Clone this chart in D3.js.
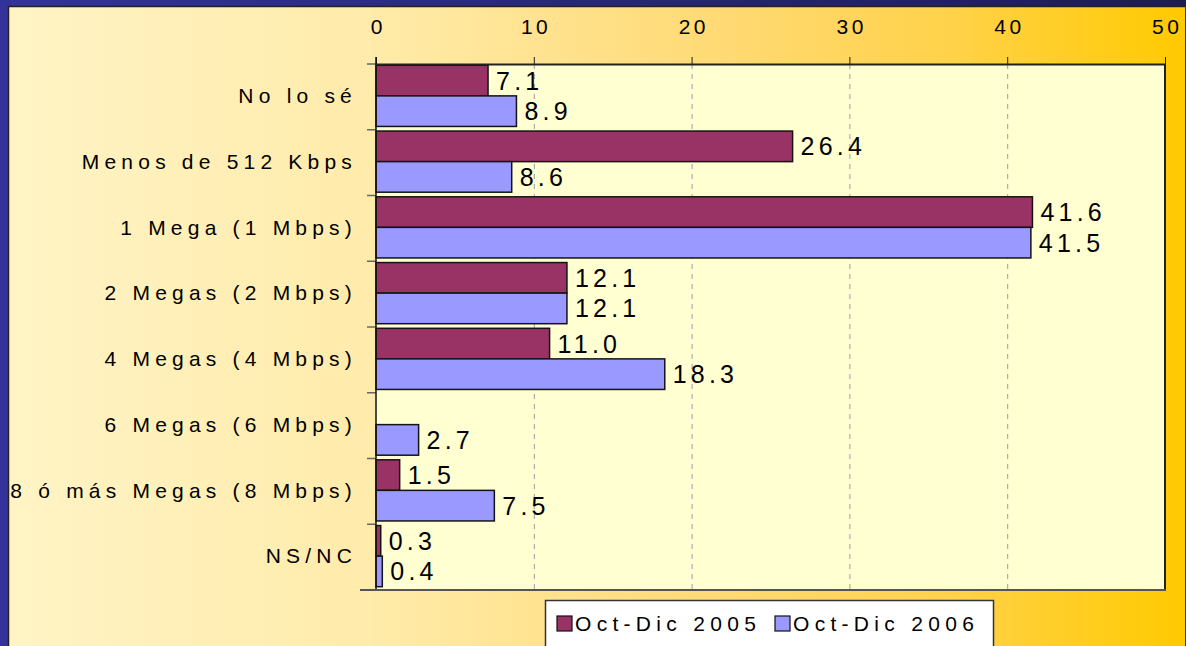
<!DOCTYPE html>
<html>
<head>
<meta charset="utf-8">
<script src="https://cdn.jsdelivr.net/npm/d3@7"></script>
<style>
  body { margin: 0; padding: 0; overflow: hidden; }
  svg { display: block; font-family: "Liberation Sans", Arial, sans-serif; }
</style>
</head>
<body>
<div id="chart"></div>
<script>
// data
var categories = ["No lo sé", "Menos de 512 Kbps", "1 Mega (1 Mbps)", "2 Megas (2 Mbps)",
                  "4 Megas (4 Mbps)", "6 Megas (6 Mbps)", "8 ó más Megas (8 Mbps)", "NS/NC"];
var series = ["Oct-Dic 2005", "Oct-Dic 2006"];
var values2005 = [7.1, 26.4, 41.6, 12.1, 11.0, null, 1.5, 0.3];
var values2006 = [8.9, 8.6, 41.5, 12.1, 18.3, 2.7, 7.5, 0.4];
var xTicks = [0, 10, 20, 30, 40, 50];
var colors = ["#993366", "#9999FF"];

var W = 1186, H = 646;
var plot = {left: 376, right: 1165, top: 64, bottom: 590};

var svg = d3.select("#chart")
  .append("svg")
    .attr("width", W)
    .attr("height", H);

// background gradients
var defs = svg.append("defs");
var bg = defs.append("linearGradient").attr("id", "bg")
  .attr("x1", "0%").attr("x2", "100%").attr("y1", "0%").attr("y2", "0%");
[[0, "#FFF4C6"], [0.3, "#FFECAC"], [0.62, "#FFD972"], [0.8, "#FFD24A"], [1, "#FFCA00"]]
  .forEach(function(s) { bg.append("stop").attr("offset", s[0]).attr("stop-color", s[1]); });
var topBar = defs.append("linearGradient").attr("id", "topbar")
  .attr("x1", "0%").attr("x2", "100%").attr("y1", "0%").attr("y2", "0%");
topBar.append("stop").attr("offset", 0).attr("stop-color", "#333399");
topBar.append("stop").attr("offset", 1).attr("stop-color", "#1c1c55");

svg.append("rect").attr("width", W).attr("height", H).attr("fill", "url(#bg)");
svg.append("rect").attr("x", 0).attr("y", 0).attr("width", 8).attr("height", H).attr("fill", "#333399");
svg.append("rect").attr("x", 0).attr("y", 0).attr("width", W).attr("height", 6).attr("fill", "url(#topbar)");
svg.append("path").attr("d", "M8.5," + H + "V6.5H" + W)
  .attr("fill", "none").attr("stroke", "#222").attr("stroke-width", 1.5);
svg.append("line").attr("x1", W - 0.5).attr("x2", W - 0.5).attr("y1", 6).attr("y2", H)
  .attr("stroke", "#333").attr("stroke-width", 1);

// scales
var x = d3.scaleLinear()
  .domain([0, 50])
  .range([plot.left, plot.right]);

var y = d3.scaleBand()
  .domain(categories)
  .range([plot.top, plot.bottom])
  .paddingInner(0.07)
  .paddingOuter(0.035);

var ySub = d3.scaleBand()
  .domain(series)
  .range([0, y.bandwidth()]);

// plot area
svg.append("rect")
  .attr("x", plot.left).attr("y", plot.top)
  .attr("width", plot.right - plot.left).attr("height", plot.bottom - plot.top)
  .attr("fill", "#FFFFD2");

// gridlines
svg.append("g")
  .selectAll("line")
  .data(xTicks.slice(1, -1))
  .enter()
  .append("line")
    .attr("x1", function(d) { return x(d) + 0.5; })
    .attr("x2", function(d) { return x(d) + 0.5; })
    .attr("y1", plot.top)
    .attr("y2", plot.bottom)
    .attr("stroke", "#9a9aa8")
    .attr("stroke-width", 1)
    .attr("stroke-dasharray", "5,5");

// bars
var rows = categories.map(function(c, i) {
  return {cat: c, vals: [
    {s: series[0], v: values2005[i]},
    {s: series[1], v: values2006[i]}
  ]};
});

var groups = svg.append("g")
  .selectAll("g")
  .data(rows)
  .enter()
  .append("g")
    .attr("transform", function(d) { return "translate(0," + (y(d.cat) - 1) + ")"; });

var fmt = d3.format(".1f");

groups.selectAll("rect")
  .data(function(d) { return d.vals.filter(function(e) { return e.v != null; }); })
  .enter()
  .append("rect")
    .attr("x", x(0))
    .attr("y", function(d) { return ySub(d.s); })
    .attr("width", function(d) { return x(d.v) - x(0); })
    .attr("height", ySub.bandwidth())
    .attr("fill", function(d) { return colors[series.indexOf(d.s)]; })
    .attr("stroke", "#141414")
    .attr("stroke-width", 1.5);

groups.selectAll("text")
  .data(function(d) { return d.vals.filter(function(e) { return e.v != null; }); })
  .enter()
  .append("text")
    .attr("x", function(d) { return x(d.v) + 8; })
    .attr("y", function(d) { return ySub(d.s) + ySub.bandwidth() / 2; })
    .attr("dy", "0.36em")
    .attr("font-size", 25)
    .attr("letter-spacing", 4.2)
    .attr("fill", "#000")
    .text(function(d) { return fmt(d.v); });

// top axis
var xAxis = svg.append("g")
  .attr("transform", "translate(0," + plot.top + ")")
  .call(d3.axisTop(x).tickValues(xTicks).tickSize(7).tickSizeOuter(0).tickPadding(23));
xAxis.select(".domain").attr("stroke", "#222").attr("stroke-width", 2);
xAxis.selectAll(".tick line").attr("stroke", "#222");
xAxis.selectAll("text")
  .attr("font-size", 21)
  .attr("letter-spacing", 3.5)
  .attr("dx", 1.75)
  .attr("fill", "#000")
  .attr("font-family", "Liberation Sans, Arial, sans-serif");

// left axis (ticks at category boundaries)
var bounds = categories.map(function(c) { return y(c) - y.step() * y.paddingInner() / 2; });
bounds.push(plot.bottom);
svg.append("g")
  .selectAll("line")
  .data(bounds)
  .enter()
  .append("line")
    .attr("x1", plot.left - 9)
    .attr("x2", plot.left)
    .attr("y1", function(d) { return d; })
    .attr("y2", function(d) { return d; })
    .attr("stroke", "#666")
    .attr("stroke-width", 1.5);

svg.append("g")
  .selectAll("text")
  .data(categories)
  .enter()
  .append("text")
    .attr("x", 357)
    .attr("y", function(d) { return y(d) + y.bandwidth() / 2; })
    .attr("dy", "0.3em")
    .attr("text-anchor", "end")
    .attr("font-size", 21)
    .attr("letter-spacing", 5.2)
    .attr("fill", "#000")
    .text(function(d) { return d; });

// plot frame
svg.append("line")
  .attr("x1", plot.left).attr("x2", plot.left)
  .attr("y1", plot.top - 7).attr("y2", plot.bottom)
  .attr("stroke", "#111").attr("stroke-width", 1.5);
svg.append("line")
  .attr("x1", plot.right).attr("x2", plot.right)
  .attr("y1", plot.top).attr("y2", plot.bottom + 1)
  .attr("stroke", "#222").attr("stroke-width", 2);
svg.append("line")
  .attr("x1", plot.left - 16).attr("x2", plot.right + 1)
  .attr("y1", plot.bottom).attr("y2", plot.bottom)
  .attr("stroke", "#555").attr("stroke-width", 2);

// legend
var legend = svg.append("g").attr("transform", "translate(545,600)");
legend.append("rect")
  .attr("x", 0.5).attr("y", 0.5).attr("width", 448).attr("height", 50)
  .attr("fill", "#fff").attr("stroke", "#333").attr("stroke-width", 1.5);
var legX = [12, 230];
series.forEach(function(s, i) {
  legend.append("rect")
    .attr("x", legX[i]).attr("y", 16)
    .attr("width", 15).attr("height", 15)
    .attr("fill", colors[i]).attr("stroke", "#111").attr("stroke-width", 1.2);
  legend.append("text")
    .attr("x", legX[i] + 18).attr("y", 31)
    .attr("font-size", 21)
    .attr("letter-spacing", 5.3)
    .attr("fill", "#000")
    .text(s);
});
</script>
</body>
</html>
